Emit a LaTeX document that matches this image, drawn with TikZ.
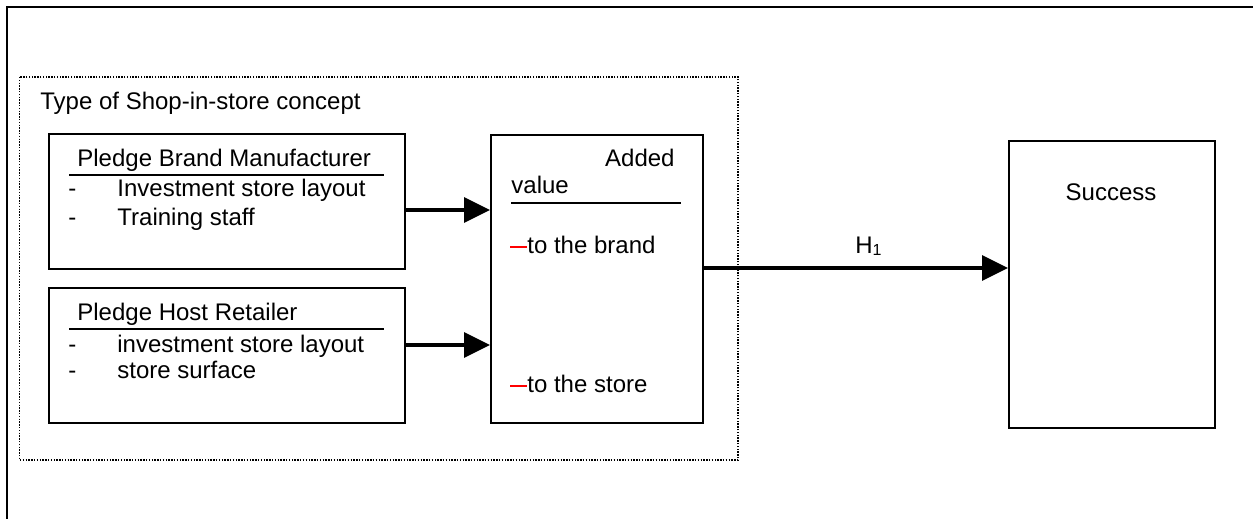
\documentclass[tikz,border=0pt]{standalone}
\usepackage{fontspec}
\setmainfont{Liberation Sans}
\usetikzlibrary{arrows.meta}
\begin{document}
\begin{tikzpicture}[x=0.5pt,y=-0.5pt,
  boxnode/.style={draw,line width=0.8pt,rectangle,inner sep=0pt,anchor=north west},
  txt/.style={inner sep=0pt,anchor=base west,font=\fontsize{12}{14}\selectfont},
  uline/.style={line width=0.8pt},
  arr/.style={line width=1.6pt,-{Triangle[length=13pt,width=12.5pt]}},
  dotbox/.style={line width=0.7pt,dash pattern=on 0.7pt off 0.7pt}]
\useasboundingbox (0,0) rectangle (1253,519);
% outer frame (top and left only visible)
\draw[line width=1pt] (6.5,519) -- (6.5,7.5) -- (1253,7.5);
% dotted group
\draw[dotbox] (19.5,77) rectangle (738,460);
\node[txt] (title) at (40,110) {Type of Shop-in-store concept};
% boxes
\node[boxnode,minimum width=178pt,minimum height=67.5pt] (b1) at (48,133) {};
\node[boxnode,minimum width=178pt,minimum height=67.5pt] (b2) at (48,287) {};
\node[boxnode,minimum width=106pt,minimum height=144pt] (mid) at (490,134) {};
\node[boxnode,minimum width=103pt,minimum height=143.5pt] (succ) at (1008,140) {};
% box 1 text
\node[txt] (h1) at (77,167) {Pledge Brand Manufacturer};
\draw[uline] (69,175) -- (384,175);
\node[txt] (d1) at (68,197) {-};
\node[txt] (i1) at (117,197) {Investment store layout};
\node[txt] (d2) at (68,225) {-};
\node[txt] (i2) at (117,225) {Training staff};
% box 2 text
\node[txt] (h2) at (77,320) {Pledge Host Retailer};
\draw[uline] (69,329) -- (384,329);
\node[txt] (d3) at (68,352) {-};
\node[txt] (i3) at (117,352) {investment store layout};
\node[txt] (d4) at (68,378) {-};
\node[txt] (i4) at (117,378) {store surface};
% middle box text
\node[txt,anchor=base east] (added) at (675,167) {Added};
\node[txt] (value) at (511,193) {value};
\draw[uline] (511,203) -- (681,203);
\node[txt] (brand) at (510,253) {{\color{red}\rule[2.6pt]{8.5pt}{1pt}}to the brand};
\node[txt] (store) at (510,392) {{\color{red}\rule[2.6pt]{8.5pt}{1pt}}to the store};
% success
\node[txt,anchor=base] (stxt) at (1111,200) {Success};
% arrows
\draw[arr] (b1.east |- 0,210) -- (mid.west |- 0,210);
\draw[arr] (b2.east |- 0,345) -- (mid.west |- 0,345);
\draw[arr] (mid.east |- 0,268) -- (succ.west |- 0,268);
\node[txt] (hyp) at (855,253) {H\raisebox{-1.2pt}{\fontsize{8}{8}\selectfont 1}};
\end{tikzpicture}
\end{document}
